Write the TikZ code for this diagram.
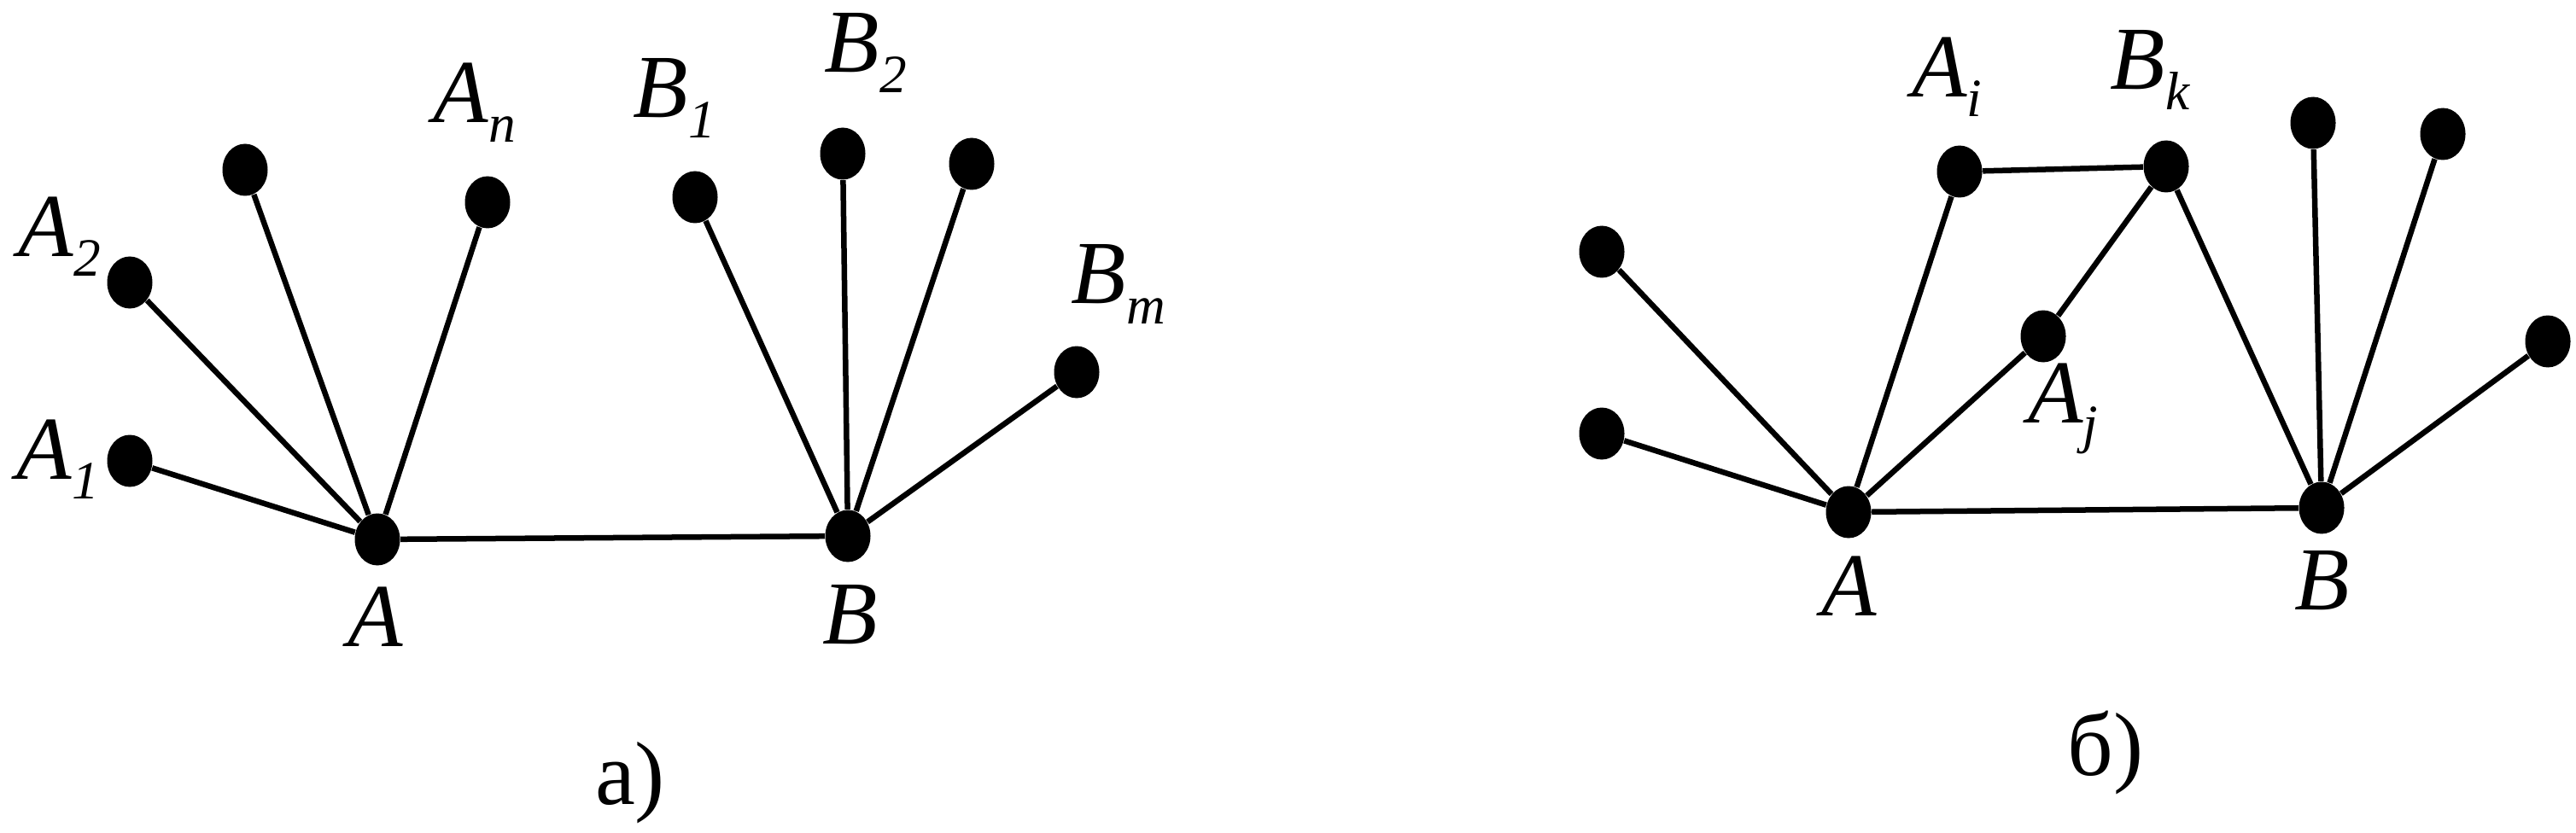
\documentclass[tikz,border=0pt]{standalone}
\usepackage{fontspec}
\setmainfont{Liberation Serif}
\usetikzlibrary{shapes.geometric, positioning}

\newcommand{\vname}[2]{#1\raisebox{-0.22em}{\fontsize{18}{18}\selectfont #2}}

\begin{document}
\begin{tikzpicture}[
    vertex/.style={ellipse, fill=black, draw=none, inner sep=0pt,
                   minimum width=0.53cm, minimum height=0.61cm},
    lbl/.style={inner sep=0pt, font=\fontsize{30}{34}\selectfont\itshape},
    capt/.style={inner sep=0pt, font=\fontsize{30}{34}\selectfont},
    edge/.style={line width=1.85pt},
]
\useasboundingbox (0,0) rectangle (30.17,9.75);

% a)
\node[vertex] (A)  at (4.42,3.43) {};
\node[vertex] (B)  at (9.93,3.47) {};
\node[vertex] (A1) at (1.52,4.35) {};
\node[vertex] (A2) at (1.52,6.44) {};
\node[vertex] (A3) at (2.87,7.76) {};
\node[vertex] (An) at (5.71,7.38) {};
\node[vertex] (B1) at (8.14,7.44) {};
\node[vertex] (B2) at (9.87,7.95) {};
\node[vertex] (B3) at (11.38,7.83) {};
\node[vertex] (Bm) at (12.61,5.39) {};

\node[lbl] (lA1) at (0.68,4.37) {\vname{A}{1}};
\node[lbl] (lA2) at (0.70,6.98) {\vname{A}{2}};
\node[lbl] (lAn) at (5.56,8.55) {\vname{A}{n}};
\node[lbl] (lB1) at (7.90,8.60) {\vname{B}{1}};
\node[lbl] (lB2) at (10.14,9.13) {\vname{B}{2}};
\node[lbl] (lBm) at (13.10,6.42) {\vname{B}{m}};
\node[lbl] (lA)  at (4.40,2.52) {A};
\node[lbl] (lB)  at (9.96,2.55) {B};
\node[capt] (capa) at (7.38,0.58) {a)};

\draw[edge] (A) -- (B);
\foreach \v in {A1, A2, A3, An}
    \draw[edge] (A) -- (\v);
\foreach \v in {B1, B2, B3, Bm}
    \draw[edge] (B) -- (\v);

% б)
\node[vertex] (rA)  at (21.65,3.75) {};
\node[vertex] (rB)  at (27.19,3.80) {};
\node[vertex] (Ai)  at (22.95,7.74) {};
\node[vertex] (Bk)  at (25.37,7.80) {};
\node[vertex] (Aj)  at (23.93,5.81) {};
\node[vertex] (rA1) at (18.76,6.80) {};
\node[vertex] (rA2) at (18.76,4.67) {};
\node[vertex] (rB1) at (27.09,8.31) {};
\node[vertex] (rB2) at (28.61,8.18) {};
\node[vertex] (rB3) at (29.84,5.75) {};

\node[lbl] (lAi) at (22.80,8.85) {\vname{A}{i}};
\node[lbl] (lBk) at (25.18,8.93) {\vname{B}{k}};
\node[lbl] (lAj) at (24.16,4.96) {\vname{A}{j}};
\node[lbl] (lrA) at (21.66,2.88) {A};
\node[lbl] (lrB) at (27.20,2.95) {B};
\node[capt] (capb) at (24.66,0.93) {б)};

\draw[edge] (rA) -- (rB);
\draw[edge] (Ai) -- (Bk);
\draw[edge] (Aj) -- (Bk);
\draw[edge] (Bk) -- (rB);
\foreach \v in {rA1, rA2, Ai, Aj}
    \draw[edge] (rA) -- (\v);
\foreach \v in {rB1, rB2, rB3}
    \draw[edge] (rB) -- (\v);

\end{tikzpicture}
\end{document}
